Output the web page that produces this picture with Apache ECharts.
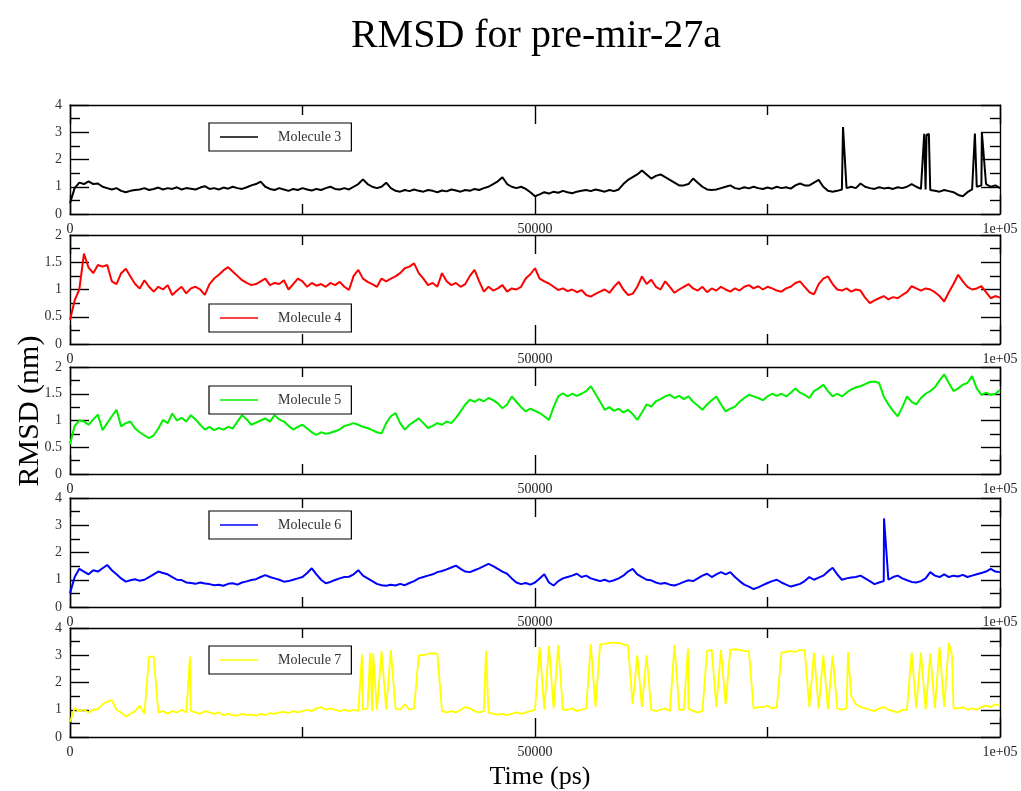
<!DOCTYPE html>
<html><head><meta charset="utf-8">
<script src="https://cdn.jsdelivr.net/npm/echarts@6/dist/echarts.min.js"></script>
<style>html,body{margin:0;padding:0;background:#fff}#c{width:1021px;height:791px}</style>
</head><body><div id="c"></div>
<script>
// ---------- data ----------
const TIME_STEP = 500; // ps between samples
const moleculeNames = ['Molecule 3', 'Molecule 4', 'Molecule 5', 'Molecule 6', 'Molecule 7'];
const xTickLabels = { 0: '0', 50000: '50000', 100000: '1e+05' };
const yMaxes = [4, 2, 2, 4, 4];
const yIntervals = [1, 0.5, 0.5, 1, 1];

const mol3 = [
0.4,0.95,1.15,1.1,1.2,1.1,1.12,1.0,0.95,0.9,
0.95,0.85,0.8,0.85,0.88,0.9,0.95,0.88,0.92,0.97,
0.9,0.95,0.92,0.98,0.9,0.95,0.93,0.9,0.97,1.02,
0.92,0.95,0.9,0.97,0.93,1.0,0.95,0.92,0.98,1.05,
1.1,1.19,1.0,0.92,0.88,0.95,0.9,0.85,0.92,0.88,
0.95,0.9,0.86,0.92,0.88,0.95,1.0,0.92,0.9,0.95,
0.9,1.0,1.1,1.27,1.1,1.0,0.95,1.0,1.15,0.95,
0.85,0.82,0.88,0.84,0.9,0.85,0.82,0.88,0.85,0.8,
0.86,0.83,0.9,0.86,0.82,0.88,0.85,0.92,0.88,0.95,
1.0,1.1,1.2,1.35,1.1,1.0,0.95,1.0,0.92,0.8,
0.65,0.72,0.8,0.75,0.82,0.78,0.85,0.8,0.76,0.82,
0.85,0.88,0.84,0.9,0.86,0.82,0.88,0.84,0.9,1.1,
1.25,1.35,1.45,1.6,1.45,1.3,1.4,1.45,1.35,1.25,
1.15,1.05,1.05,1.1,1.3,1.15,1.0,0.9,0.88,0.9,
0.95,1.0,1.05,0.95,0.92,0.98,0.94,1.0,0.95,0.92,
0.97,0.93,1.0,0.95,0.98,0.93,1.05,1.12,1.05,1.05,
1.15,1.25,1.0,0.85,0.82,0.85,0.9,0.95,1.0,0.95,
1.12,1.0,0.95,0.92,0.98,0.94,0.96,0.92,0.98,0.95,
1.0,1.1,1.0,0.92,0.9,0.88,0.85,0.82,0.88,0.84,
0.8,0.7,0.65,0.8,0.9,1.0,1.05,1.1,1.0,1.05,
0.95];
const mol3Spikes = [[83120, 3.19], [91850, 2.94], [92100, 2.9], [92350, 2.94], [97300, 2.95], [98050, 3.0]];

const mol4 = [
0.44,0.8,1.0,1.66,1.4,1.3,1.45,1.42,1.45,1.15,
1.1,1.3,1.38,1.24,1.1,1.02,1.17,1.05,0.96,1.05,
1.0,1.08,0.9,0.98,1.05,0.93,1.02,1.05,1.0,0.9,
1.1,1.2,1.27,1.35,1.41,1.33,1.25,1.17,1.12,1.08,
1.1,1.15,1.2,1.08,1.12,1.1,1.17,1.0,1.1,1.2,
1.15,1.05,1.12,1.07,1.1,1.05,1.12,1.08,1.14,1.05,
0.99,1.25,1.36,1.2,1.14,1.1,1.05,1.2,1.15,1.2,
1.24,1.3,1.39,1.42,1.48,1.3,1.2,1.08,1.12,1.05,
1.3,1.15,1.08,1.12,1.05,1.1,1.25,1.36,1.15,0.96,
1.05,0.98,1.02,1.08,0.96,1.02,1.0,1.05,1.2,1.28,
1.39,1.2,1.15,1.11,1.05,0.99,1.02,0.97,1.0,0.95,
0.99,0.9,0.87,0.92,0.96,1.0,0.94,1.05,1.14,1.0,
0.9,0.92,1.05,1.24,1.1,1.18,1.05,1.0,1.15,1.05,
0.94,1.0,1.05,1.1,1.02,0.98,1.05,0.95,1.02,0.98,
1.05,1.0,0.96,1.02,0.98,1.05,1.08,1.02,1.06,1.0,
1.05,1.02,0.98,0.96,1.02,1.05,1.12,1.15,1.05,0.95,
0.91,1.1,1.2,1.24,1.1,1.0,0.98,1.02,0.96,1.0,
0.98,0.85,0.75,0.8,0.84,0.88,0.82,0.86,0.84,0.9,
0.95,1.06,1.02,0.98,1.02,1.0,0.95,0.88,0.78,0.95,
1.1,1.27,1.15,1.05,1.0,1.02,1.06,0.95,0.84,0.88,
0.85];
const mol4Spikes = [];

const mol5 = [
0.55,0.9,1.0,0.98,0.92,1.02,1.11,0.82,0.95,1.08,
1.2,0.89,0.95,0.98,0.85,0.78,0.72,0.67,0.72,0.85,
1.01,0.95,1.13,1.0,1.05,0.98,1.1,1.02,0.92,0.83,
0.88,0.82,0.86,0.83,0.88,0.85,0.98,1.1,1.02,0.92,
0.96,1.0,1.04,0.98,1.1,1.02,0.98,0.9,0.83,0.88,
0.92,0.85,0.78,0.73,0.78,0.75,0.77,0.8,0.83,0.9,
0.92,0.95,0.92,0.88,0.86,0.82,0.78,0.76,0.95,1.08,
1.14,0.95,0.83,0.92,0.98,1.04,0.95,0.86,0.9,0.95,
0.92,0.98,0.95,1.05,1.17,1.3,1.39,1.35,1.4,1.36,
1.42,1.38,1.32,1.23,1.3,1.45,1.35,1.25,1.17,1.22,
1.18,1.14,1.08,1.01,1.25,1.45,1.51,1.45,1.5,1.46,
1.5,1.55,1.64,1.5,1.35,1.2,1.25,1.18,1.22,1.15,
1.2,1.12,1.01,1.15,1.3,1.26,1.36,1.4,1.45,1.48,
1.42,1.46,1.4,1.45,1.35,1.28,1.2,1.3,1.38,1.45,
1.3,1.17,1.22,1.26,1.35,1.42,1.48,1.45,1.42,1.38,
1.45,1.5,1.46,1.5,1.45,1.52,1.6,1.52,1.48,1.42,
1.55,1.6,1.67,1.55,1.45,1.5,1.45,1.52,1.58,1.62,
1.64,1.68,1.72,1.73,1.7,1.45,1.3,1.18,1.08,1.25,
1.45,1.35,1.3,1.42,1.5,1.55,1.62,1.75,1.86,1.7,
1.55,1.6,1.67,1.7,1.83,1.6,1.48,1.52,1.48,1.5,
1.57];
const mol5Spikes = [];

const mol6 = [
0.5,1.1,1.4,1.3,1.2,1.35,1.3,1.42,1.54,1.35,
1.2,1.05,0.93,0.98,1.02,0.96,1.0,1.1,1.2,1.3,
1.25,1.2,1.1,1.0,0.99,0.9,0.88,0.85,0.9,0.86,
0.84,0.8,0.82,0.78,0.85,0.87,0.82,0.9,0.94,0.99,
1.02,1.1,1.17,1.1,1.05,1.0,0.93,0.95,1.0,1.05,
1.1,1.25,1.42,1.2,1.0,0.87,0.92,0.99,1.05,1.1,
1.11,1.2,1.35,1.15,1.05,0.95,0.85,0.8,0.78,0.82,
0.79,0.85,0.8,0.88,0.95,1.05,1.1,1.15,1.2,1.28,
1.32,1.38,1.45,1.52,1.4,1.3,1.28,1.35,1.42,1.5,
1.58,1.5,1.4,1.3,1.22,1.05,0.9,0.84,0.88,0.82,
0.9,1.05,1.2,0.9,0.79,0.95,1.05,1.1,1.15,1.22,
1.1,1.15,1.05,1.0,0.95,1.0,0.93,0.98,1.05,1.15,
1.3,1.4,1.2,1.1,1.0,0.98,0.9,0.85,0.88,0.82,
0.79,0.85,0.92,0.98,0.95,1.05,1.15,1.22,1.1,1.2,
1.28,1.2,1.28,1.1,0.95,0.82,0.75,0.66,0.72,0.8,
0.88,0.95,1.0,0.9,0.82,0.75,0.8,0.85,0.95,1.1,
1.0,1.08,1.15,1.3,1.44,1.2,1.0,1.05,1.08,1.1,
1.15,1.05,0.95,0.84,0.9,0.95,1.0,1.1,1.15,1.05,
0.98,0.92,0.9,0.95,1.05,1.28,1.15,1.1,1.2,1.1,
1.15,1.12,1.18,1.1,1.15,1.2,1.25,1.3,1.4,1.3,
1.28];
const mol6Spikes = [[87530, 3.25]];

const mol7 = [
0.56,1.05,0.95,1.0,0.9,1.0,1.02,1.2,1.3,1.35,
1.0,0.9,0.75,0.85,0.95,1.15,0.85,2.95,2.95,0.9,
0.95,0.85,0.95,0.9,1.0,0.9,0.95,0.9,0.85,0.95,
0.9,0.85,0.9,0.8,0.85,0.8,0.78,0.85,0.8,0.82,
0.78,0.85,0.8,0.88,0.85,0.9,0.92,0.88,0.95,0.9,
0.95,1.0,0.95,1.05,1.1,1.0,1.05,1.0,0.95,1.0,
0.95,1.0,0.95,1.0,1.05,0.95,1.0,3.15,1.0,3.19,
1.05,1.0,1.2,1.0,1.05,3.0,3.0,3.05,3.08,3.05,
0.95,0.9,0.95,0.9,1.0,1.1,1.05,0.95,0.9,0.95,
0.9,0.85,0.82,0.85,0.8,0.85,0.9,0.85,0.9,0.95,
1.0,3.3,1.0,3.35,1.05,3.37,1.0,1.0,1.05,0.95,
1.0,1.05,3.4,1.1,3.4,3.42,3.45,3.46,3.45,3.4,
3.35,1.2,3.0,1.1,3.0,1.0,0.95,1.0,1.05,0.95,
3.37,1.0,1.0,1.05,0.95,0.9,0.95,3.15,3.2,1.1,
3.2,1.2,3.2,3.22,3.2,3.15,3.15,1.05,1.1,1.1,
1.15,1.05,1.1,3.1,3.12,3.15,3.12,3.2,3.18,1.1,
3.1,1.05,3.0,1.0,3.0,1.05,1.0,1.05,1.5,1.2,
1.1,1.05,1.0,0.95,1.05,1.1,1.0,0.95,0.9,1.0,
1.0,3.1,1.05,3.1,1.0,3.05,1.05,3.3,1.1,3.46,
1.05,1.05,1.1,1.0,1.05,1.0,1.1,1.15,1.1,1.2,
1.15];
const mol7Spikes = [[12900, 2.95], [31400, 3.03], [32260, 3.08], [32600, 3.05], [44730, 3.17], [66450, 3.24], [83660, 3.12], [94840, 3.0]];

const seriesValues = [mol3, mol4, mol5, mol6, mol7];
const seriesSpikes = [mol3Spikes, mol4Spikes, mol5Spikes, mol6Spikes, mol7Spikes];

// ---------- styling / layout ----------
const lineColors = ['#000000', '#ff0000', '#00f000', '#0000ff', '#ffff00'];
const lineWidths = [2, 2, 2, 2, 1.8];
const panelTops = [105, 235, 367, 498, 628];
const panelHeights = [109, 109, 107, 109, 109];
const legendTops = [123, 304, 386, 511, 646];
const SERIF = '"Liberation Serif", "DejaVu Serif", serif';

function buildPoints(values, spikes) {
  const pts = values.map((v, i) => [i * TIME_STEP, v]);
  spikes.forEach(s => pts.push([s[0], s[1]]));
  pts.sort((a, b) => a[0] - b[0]);
  return pts;
}

const grids = [], xAxes = [], yAxes = [], series = [], legends = [];
const axisLineStyle = { color: '#000', width: 1.4 };
const labelStyle = { fontFamily: SERIF, fontSize: 14, color: '#333' };

for (let k = 0; k < 5; k++) {
  grids.push({ left: 70, right: 21, top: panelTops[k], height: panelHeights[k] });
  const xBase = {
    type: 'value', gridIndex: k, min: 0, max: 100000, interval: 50000,
    axisLine: { show: true, onZero: false, lineStyle: axisLineStyle },
    axisTick: { show: true, inside: true, length: 19, lineStyle: axisLineStyle },
    minorTick: { show: true, splitNumber: 2, length: 10, lineStyle: axisLineStyle },
    splitLine: { show: false }, minorSplitLine: { show: false }
  };
  xAxes.push(Object.assign({}, xBase, {
    position: 'bottom',
    axisLabel: { show: true, margin: 8, fontFamily: SERIF, fontSize: 14, color: '#222',
      showMinLabel: true, showMaxLabel: true,
      formatter: v => (xTickLabels[v] !== undefined ? xTickLabels[v] : '') }
  }));
  xAxes.push(Object.assign({}, xBase, { position: 'top', axisLabel: { show: false } }));
  const yBase = {
    type: 'value', gridIndex: k, min: 0, max: yMaxes[k], interval: yIntervals[k],
    axisLine: { show: true, onZero: false, lineStyle: axisLineStyle },
    axisTick: { show: true, inside: true, length: 19, lineStyle: axisLineStyle },
    minorTick: { show: true, splitNumber: 2, length: 10, lineStyle: axisLineStyle },
    splitLine: { show: false }, minorSplitLine: { show: false }
  };
  yAxes.push(Object.assign({}, yBase, {
    position: 'left',
    axisLabel: Object.assign({ show: true, margin: 8, showMinLabel: true, showMaxLabel: true }, labelStyle)
  }));
  yAxes.push(Object.assign({}, yBase, { position: 'right', axisLabel: { show: false } }));

  series.push({
    name: moleculeNames[k], type: 'line',
    xAxisIndex: 2 * k, yAxisIndex: 2 * k,
    data: buildPoints(seriesValues[k], seriesSpikes[k]),
    showSymbol: false, symbol: 'none', sampling: null,
    color: lineColors[k],
    lineStyle: { color: lineColors[k], width: lineWidths[k] },
    clip: true, silent: true
  });
  legends.push({
    data: [moleculeNames[k]], left: 209, top: legendTops[k],
    orient: 'horizontal', icon: 'rect', itemWidth: 38, itemHeight: 1.5,
    selectedMode: false, borderColor: '#000', borderWidth: 1.2,
    padding: [7, 10, 7, 11], backgroundColor: '#fff',
    textStyle: { fontFamily: SERIF, fontSize: 14, color: '#333', padding: [0, 0, 0, 15] }
  });
}

const chart = echarts.init(document.getElementById('c'), null, { renderer: 'canvas' });
chart.setOption({
  animation: false,
  backgroundColor: '#fff',
  grid: grids, xAxis: xAxes, yAxis: yAxes, series: series, legend: legends,
  graphic: [
    { type: 'text', x: 536, y: 36, style: { text: 'RMSD for pre-mir-27a', fontFamily: SERIF, fontSize: 40, fill: '#000', align: 'center', verticalAlign: 'middle' } },
    { type: 'text', x: 30, y: 411, rotation: Math.PI / 2, style: { text: 'RMSD (nm)', fontFamily: SERIF, fontSize: 30, fill: '#000', align: 'center', verticalAlign: 'middle' } },
    { type: 'text', x: 540, y: 777, style: { text: 'Time (ps)', fontFamily: SERIF, fontSize: 26, fill: '#000', align: 'center', verticalAlign: 'middle' } }
  ]
});
</script>
</body></html>
